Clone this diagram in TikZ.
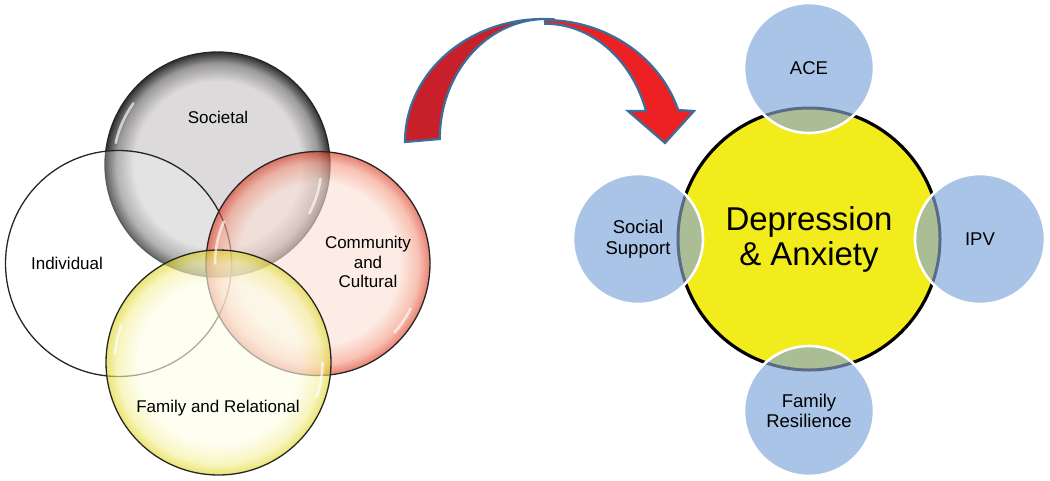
\documentclass[tikz,border=0pt]{standalone}
\usepackage{fontspec}
\setmainfont{Liberation Sans}
\definecolor{socC}{HTML}{D8D6D7}
\definecolor{socM}{HTML}{8E8C8D}
\definecolor{socD}{HTML}{1A1A1A}
\definecolor{comC}{HTML}{FCE1D7}
\definecolor{comM}{HTML}{F49A82}
\definecolor{comD}{HTML}{D8341E}
\definecolor{famC}{HTML}{FDFDE9}
\definecolor{famM}{HTML}{F4F09A}
\definecolor{famD}{HTML}{DDD420}
\definecolor{arrowDark}{HTML}{C8202A}
\definecolor{arrowBright}{HTML}{ED2024}
\definecolor{arrowLine}{HTML}{3B6E9B}
\definecolor{depYellow}{HTML}{F2EC1C}
\definecolor{smallBlue}{HTML}{A9C4E7}
\definecolor{lensGreen}{HTML}{ABBD95}
\definecolor{lensArc}{HTML}{5B6B85}
\pgfdeclareradialshading{greyglass}{\pgfpoint{0bp}{0bp}}{color(0bp)=(socC); color(18.5bp)=(socC); color(22.5bp)=(socM); color(25bp)=(socD); color(50bp)=(socD)}
\pgfdeclareradialshading{redglass}{\pgfpoint{0bp}{0bp}}{color(0bp)=(comC); color(18bp)=(comC); color(22.5bp)=(comM); color(25bp)=(comD); color(50bp)=(comD)}
\pgfdeclareradialshading{yellowglass}{\pgfpoint{0bp}{0bp}}{color(0bp)=(famC); color(18bp)=(famC); color(22.5bp)=(famM); color(25bp)=(famD); color(50bp)=(famD)}
\tikzset{
  venn/.style={circle, inner sep=0pt, draw=black!85, line width=1.3pt},
  vlabel/.style={font=\fontsize{17}{19.5}\selectfont, align=center, inner sep=0pt},
  gloss/.style={white, line width=2.6pt, opacity=0.65, line cap=round},
  arrowpart/.style={draw=arrowLine, line width=2.2pt, line join=miter},
  depcircle/.style={circle, inner sep=0pt, minimum size=262pt, fill=depYellow, draw=black, line width=3.2pt,
     font=\fontsize{33}{35}\selectfont, align=center},
  smallcircle/.style={circle, inner sep=0pt, minimum size=130pt, fill=smallBlue,
     font=\fontsize{18.5}{20.5}\selectfont, align=center},
}
\begin{document}
\begin{tikzpicture}[x=1pt,y=-1pt]
\useasboundingbox (0,0) rectangle (1050,480);
% ---------------- left Venn ----------------
\node[venn, minimum size=225pt, shading=greyglass, fill opacity=0.9] (soc) at (217.5,164.5) {};
\node[venn, minimum size=226pt, fill=white, fill opacity=0.25] (ind) at (118.5,263.5) {};
\node[venn, minimum size=224pt, shading=redglass, fill opacity=0.62] (com) at (318,263.5) {};
\node[venn, minimum size=225pt, shading=yellowglass, fill opacity=0.62] (fam) at (218.5,362.5) {};
% glossy highlights
\draw[gloss] (soc.center) ++(192:104) arc[start angle=192, end angle=216, radius=104];
\draw[gloss] (soc.center) ++(8:104) arc[start angle=8, end angle=28, radius=104];
\draw[gloss] (com.center) ++(180:103) arc[start angle=180, end angle=204, radius=103];
\draw[gloss] (com.center) ++(26:103) arc[start angle=26, end angle=42, radius=103];
\draw[gloss] (fam.center) ++(185:104) arc[start angle=185, end angle=201, radius=104];
\draw[gloss] (fam.center) ++(0:104) arc[start angle=0, end angle=19, radius=104];
% labels
\node[vlabel] (socL) at (218,117) {Societal};
\node[vlabel] (indL) at (67,263) {Individual};
\node[vlabel] (comL) at (368,262) {Community\\and\\Cultural};
\node[vlabel] (famL) at (218,408) {Family and Relational};
% ---------------- curved arrow ----------------
\coordinate (aL) at (405,142);
\coordinate (aTop) at (545,20);
\coordinate (aTip) at (665,143);
\draw[arrowpart, fill=arrowBright] (aTop) arc[start angle=270, end angle=342.1, x radius=140, y radius=130]
   -- (694,111) -- (aTip) -- (628,111) -- (646,111)
   arc[start angle=342.1, end angle=270, x radius=106, y radius=126] -- cycle;
\draw[arrowpart, fill=arrowDark] (aL) arc[start angle=180, end angle=275, x radius=138, y radius=123]
   arc[start angle=275, end angle=180, x radius=106, y radius=120] -- cycle;
% ---------------- right cluster ----------------
\node[depcircle] (dep) at (809,239) {Depression\\\& Anxiety};
\node[smallcircle] (ace) at (809,68) {ACE};
\node[smallcircle] (soc2) at (638,239) {Social\\Support};
\node[smallcircle] (ipv) at (980,239) {IPV};
\node[smallcircle] (fr) at (809,411) {Family\\Resilience};
\foreach \c in {ace,soc2,ipv,fr}{
  \begin{scope}
    \clip (dep.center) circle (131);
    \fill[lensGreen] (\c.center) circle (65);
  \end{scope}
  \begin{scope}
    \clip (\c.center) circle (65);
    \draw[lensArc, line width=3pt] (dep.center) circle (131);
  \end{scope}
  \draw[white, line width=2.6pt] (\c.center) circle (65);
}
\end{tikzpicture}
\end{document}
